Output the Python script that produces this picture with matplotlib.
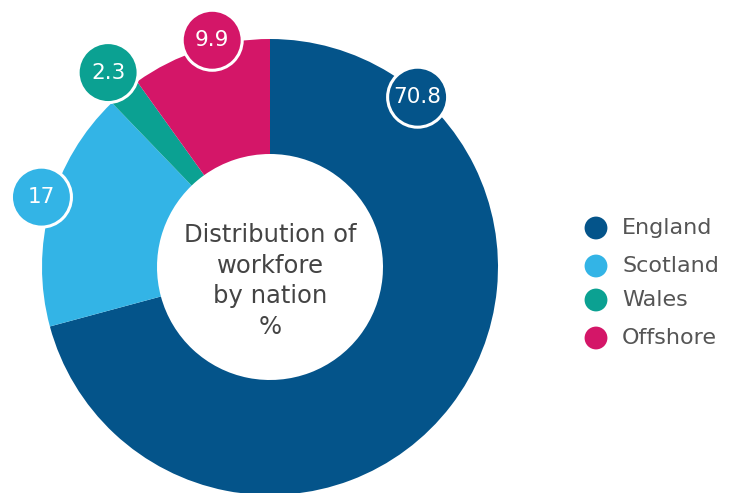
import numpy as np
import matplotlib.pyplot as plt

nations = ["England", "Scotland", "Wales", "Offshore"]
shares = [70.8, 17, 2.3, 9.9]
labels = ["70.8", "17", "2.3", "9.9"]
colors = ["#04548a", "#33b4e6", "#0ba192", "#d41668"]

W, H = 732, 493
cx, cy = 270, H - 267
r_out, r_in = 228, 113

fig = plt.figure(figsize=(W / 100, H / 100), dpi=100)
ax = fig.add_axes([0, 0, 1, 1])

wedges, _ = ax.pie(shares, colors=colors, startangle=90, counterclock=False,
                   center=(cx, cy), radius=r_out,
                   wedgeprops=dict(width=r_out - r_in, linewidth=0))
ax.set_xlim(0, W)
ax.set_ylim(0, H)
ax.set_aspect("equal")
ax.axis("off")

# value bubbles: near the slice middle, England sits near its start
bubble_angle = {"England": 49, "Scotland": 163, "Offshore": 104.3}
bubble_dist = {"England": 225, "Scotland": 239, "Wales": 253, "Offshore": 234}
for w, name, lab, c in zip(wedges, nations, labels, colors):
    ang = bubble_angle.get(name, (w.theta1 + w.theta2) / 2)
    d = bubble_dist[name]
    x = cx + d * np.cos(np.radians(ang))
    y = cy + d * np.sin(np.radians(ang))
    ax.add_patch(plt.Circle((x, y), 30, facecolor=c, edgecolor="white",
                            linewidth=2.2, zorder=5))
    ax.text(x, y, lab, ha="center", va="center", color="white",
            fontsize=15.5, zorder=6)

ax.text(cx, cy - 14, "Distribution of\nworkfore\nby nation\n%", ha="center",
        va="center", fontsize=17.5, color="#444444", linespacing=1.35)

# legend
leg_y = [H - 228, H - 266, H - 300, H - 338]
for name, c, y in zip(nations, colors, leg_y):
    ax.scatter([596], [y], s=270, color=c, edgecolors="none")
    ax.text(622, y, name, va="center", ha="left", fontsize=16, color="#555555")

fig.savefig("out.png", dpi=100)
